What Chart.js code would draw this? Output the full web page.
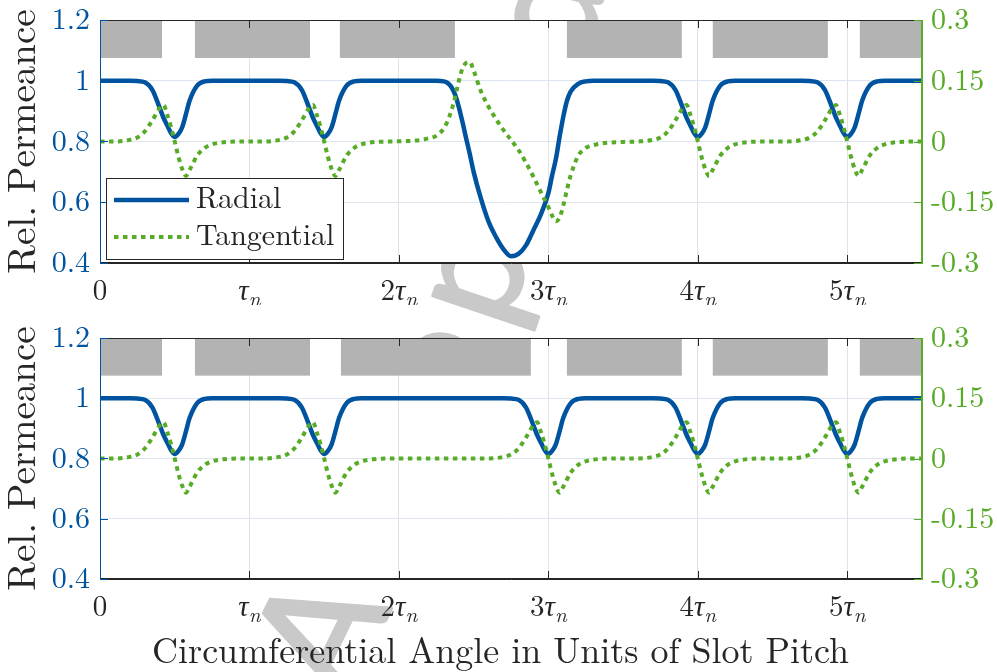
<!DOCTYPE html>
<html>
<head>
<meta charset="utf-8">
<script src="https://cdn.jsdelivr.net/npm/chart.js@4.4.1/dist/chart.umd.min.js"></script>
<style>
  html, body { margin: 0; padding: 0; background: #fff; }
  #wrap { position: relative; width: 997px; height: 672px; overflow: hidden; }
  #wrap canvas { position: absolute; left: 0; }
  #mark { top: 0; }
  #chartTop { top: 0; }
  #chartBottom { top: 305px; }
</style>
</head>
<body>
<div id="wrap">
  <canvas id="mark" width="997" height="672"></canvas>
  <canvas id="chartTop" width="997" height="305"></canvas>
  <canvas id="chartBottom" width="997" height="367"></canvas>
</div>
<script>
// values (x in units of slot pitch)
var xTicks = [0, 1, 2, 3, 4, 5];
var leftTicks = [0.4, 0.6, 0.8, 1.0, 1.2];
var rightTicks = [-0.3, -0.15, 0, 0.15, 0.3];

var toothStartTop = [0, 0.635, 1.605, 3.124, 4.1, 5.084];
var toothEndTop = [0.415, 1.405, 2.375, 3.893, 4.87, 5.5];
var toothStartBottom = [0, 0.635, 1.612, 3.124, 4.1, 5.084];
var toothEndBottom = [0.415, 1.405, 2.883, 3.893, 4.87, 5.5];
var TOOTH_LEVEL = 1.075;

var angleTop = [0, 0.1, 0.2, 0.25, 0.3, 0.35, 0.4, 0.425, 0.45, 0.475, 0.5, 0.525, 0.55, 0.575, 0.6, 0.65, 0.7, 0.75, 0.8, 0.85, 0.95,
  1.1, 1.2, 1.25, 1.3, 1.35, 1.4, 1.425, 1.45, 1.475, 1.5, 1.525, 1.55, 1.575, 1.6, 1.65, 1.7, 1.75, 1.8, 1.85, 1.95,
  2.05, 2.1, 2.15, 2.2, 2.25, 2.3, 2.325, 2.35, 2.375, 2.4, 2.425, 2.45, 2.475, 2.5, 2.55, 2.6, 2.65, 2.7, 2.75, 2.8,
  2.85, 2.9, 2.95, 3.0, 3.025, 3.05, 3.075, 3.1, 3.125, 3.15, 3.2, 3.25, 3.3, 3.4, 3.5,
  3.6, 3.7, 3.75, 3.8, 3.85, 3.9, 3.925, 3.95, 3.975, 4.0, 4.025, 4.05, 4.075, 4.1, 4.15, 4.2, 4.25, 4.3, 4.35, 4.45,
  4.6, 4.7, 4.75, 4.8, 4.85, 4.9, 4.925, 4.95, 4.975, 5.0, 5.025, 5.05, 5.075, 5.1, 5.15, 5.2, 5.25, 5.3, 5.35, 5.45, 5.5];
var radialTop = [1, 1, 1, 0.999, 0.995, 0.97, 0.91, 0.878, 0.853, 0.828, 0.815, 0.825, 0.847, 0.89, 0.935, 0.984, 0.998, 1, 1, 1, 1,
  1, 1, 0.999, 0.995, 0.97, 0.91, 0.878, 0.853, 0.828, 0.815, 0.825, 0.847, 0.89, 0.935, 0.984, 0.998, 1, 1, 1, 1,
  1, 1, 1, 1, 1, 0.998, 0.993, 0.98, 0.955, 0.915, 0.865, 0.81, 0.757, 0.70, 0.61, 0.536, 0.485, 0.445, 0.422, 0.43,
  0.458, 0.508, 0.56, 0.63, 0.688, 0.742, 0.815, 0.882, 0.935, 0.965, 0.99, 0.998, 1, 1, 1,
  1, 1, 0.999, 0.995, 0.97, 0.91, 0.878, 0.853, 0.828, 0.815, 0.825, 0.847, 0.89, 0.935, 0.984, 0.998, 1, 1, 1, 1,
  1, 1, 0.999, 0.995, 0.97, 0.91, 0.878, 0.853, 0.828, 0.815, 0.825, 0.847, 0.89, 0.935, 0.984, 0.998, 1, 1, 1, 1, 1];
var tangentialTop = [0, 0, 0.004, 0.01, 0.025, 0.052, 0.083, 0.09, 0.066, 0.036, 0, -0.038, -0.068, -0.085, -0.07, -0.035, -0.016, -0.007, -0.003, -0.001, 0,
  0, 0.004, 0.01, 0.025, 0.052, 0.083, 0.09, 0.066, 0.036, 0, -0.038, -0.068, -0.085, -0.07, -0.035, -0.016, -0.007, -0.003, -0.001, 0,
  0.001, 0.002, 0.004, 0.008, 0.014, 0.032, 0.05, 0.075, 0.108, 0.148, 0.18, 0.194, 0.196, 0.175, 0.123, 0.086, 0.055, 0.028, 0.004, -0.021,
  -0.052, -0.087, -0.125, -0.162, -0.183, -0.197, -0.188, -0.158, -0.118, -0.083, -0.035, -0.016, -0.009, -0.003, -0.001,
  0, 0.004, 0.01, 0.025, 0.052, 0.083, 0.09, 0.066, 0.036, 0, -0.038, -0.068, -0.085, -0.07, -0.035, -0.016, -0.007, -0.003, -0.001, 0,
  0, 0.004, 0.01, 0.025, 0.052, 0.083, 0.09, 0.066, 0.036, 0, -0.038, -0.068, -0.085, -0.07, -0.035, -0.016, -0.007, -0.003, -0.001, 0, 0];

var angleBottom = [0, 0.1, 0.2, 0.25, 0.3, 0.35, 0.4, 0.425, 0.45, 0.475, 0.5, 0.525, 0.55, 0.575, 0.6, 0.65, 0.7, 0.75, 0.8, 0.85, 0.95,
  1.1, 1.2, 1.25, 1.3, 1.35, 1.4, 1.425, 1.45, 1.475, 1.5, 1.525, 1.55, 1.575, 1.6, 1.65, 1.7, 1.75, 1.8, 1.85, 1.95,
  2.1, 2.3, 2.5, 2.6, 2.7, 2.75, 2.8, 2.85, 2.9, 2.925, 2.95, 2.975, 3.0, 3.025, 3.05, 3.075, 3.1, 3.15, 3.2, 3.25, 3.3, 3.35, 3.45,
  3.6, 3.7, 3.75, 3.8, 3.85, 3.9, 3.925, 3.95, 3.975, 4.0, 4.025, 4.05, 4.075, 4.1, 4.15, 4.2, 4.25, 4.3, 4.35, 4.45,
  4.6, 4.7, 4.75, 4.8, 4.85, 4.9, 4.925, 4.95, 4.975, 5.0, 5.025, 5.05, 5.075, 5.1, 5.15, 5.2, 5.25, 5.3, 5.35, 5.45, 5.5];
var radialBottom = [1, 1, 1, 0.999, 0.995, 0.97, 0.91, 0.878, 0.853, 0.828, 0.815, 0.825, 0.847, 0.89, 0.935, 0.984, 0.998, 1, 1, 1, 1,
  1, 1, 0.999, 0.995, 0.97, 0.91, 0.878, 0.853, 0.828, 0.815, 0.825, 0.847, 0.89, 0.935, 0.984, 0.998, 1, 1, 1, 1,
  1, 1, 1, 1, 1, 0.999, 0.995, 0.97, 0.91, 0.878, 0.853, 0.828, 0.815, 0.825, 0.847, 0.89, 0.935, 0.984, 0.998, 1, 1, 1, 1,
  1, 1, 0.999, 0.995, 0.97, 0.91, 0.878, 0.853, 0.828, 0.815, 0.825, 0.847, 0.89, 0.935, 0.984, 0.998, 1, 1, 1, 1,
  1, 1, 0.999, 0.995, 0.97, 0.91, 0.878, 0.853, 0.828, 0.815, 0.825, 0.847, 0.89, 0.935, 0.984, 0.998, 1, 1, 1, 1, 1];
var tangentialBottom = [0, 0, 0.004, 0.01, 0.025, 0.052, 0.083, 0.09, 0.066, 0.036, 0, -0.038, -0.068, -0.085, -0.07, -0.035, -0.016, -0.007, -0.003, -0.001, 0,
  0, 0.004, 0.01, 0.025, 0.052, 0.083, 0.09, 0.066, 0.036, 0, -0.038, -0.068, -0.085, -0.07, -0.035, -0.016, -0.007, -0.003, -0.001, 0,
  0, 0, 0, 0, 0.004, 0.01, 0.025, 0.052, 0.083, 0.09, 0.066, 0.036, 0, -0.038, -0.068, -0.085, -0.07, -0.035, -0.016, -0.007, -0.003, -0.001, 0,
  0, 0.004, 0.01, 0.025, 0.052, 0.083, 0.09, 0.066, 0.036, 0, -0.038, -0.068, -0.085, -0.07, -0.035, -0.016, -0.007, -0.003, -0.001, 0,
  0, 0.004, 0.01, 0.025, 0.052, 0.083, 0.09, 0.066, 0.036, 0, -0.038, -0.068, -0.085, -0.07, -0.035, -0.016, -0.007, -0.003, -0.001, 0, 0];

var BLUE = '#00549F';
var GREEN = '#57AB27';
var GRAY = '#B3B3B3';
var INK = '#262626';

// first serif face that is really installed, else the generic one
function hasFont(name) {
  var c = document.createElement('canvas').getContext('2d');
  var s = 'Rel. Permeance 0123 Wg';
  var bases = ['monospace', 'sans-serif'];
  for (var i = 0; i < bases.length; i++) {
    c.font = '40px ' + bases[i];
    var w0 = c.measureText(s).width;
    c.font = '40px "' + name + '", ' + bases[i];
    if (Math.abs(c.measureText(s).width - w0) > 0.5) return true;
  }
  return false;
}
var SERIF = 'serif';
['Latin Modern Roman', 'CMU Serif', 'Liberation Serif', 'DejaVu Serif', 'Noto Serif', 'Times New Roman', 'FreeSerif', 'Tinos'].some(function (f) {
  if (hasFont(f)) { SERIF = '"' + f + '", serif'; return true; }
  return false;
});

function pairs(xs, ys) {
  var out = [];
  for (var i = 0; i < xs.length; i++) out.push({ x: xs[i], y: ys[i] });
  return out;
}

function fmt(v) {
  return String(parseFloat(v.toFixed(2)));
}

// tick label like 2τ with subscript n
function drawTauLabel(ctx, k, px, baseY) {
  var parts = [];
  if (k === 0) {
    parts.push(['0', '29px ' + SERIF, 0]);
  } else {
    if (k > 1) parts.push([String(k), '29px ' + SERIF, 0]);
    parts.push(['\u03C4', 'italic 29px ' + SERIF, 0]);
    parts.push(['n', 'italic 21px ' + SERIF, 6]);
  }
  var total = 0;
  parts.forEach(function (p) { ctx.font = p[1]; p.push(ctx.measureText(p[0]).width); total += p[3]; });
  var x = px - total / 2;
  ctx.fillStyle = INK;
  ctx.textAlign = 'left';
  ctx.textBaseline = 'alphabetic';
  parts.forEach(function (p) { ctx.font = p[1]; ctx.fillText(p[0], x, baseY + p[2]); x += p[3]; });
}

var decoPlugin = {
  id: 'deco',
  beforeDraw: function (chart) {
    var a = chart.chartArea, ctx = chart.ctx;
    ctx.save();
    ctx.fillStyle = '#fff';
    ctx.fillRect(a.left, a.top, a.right - a.left, a.bottom - a.top);
    ctx.restore();
  },
  beforeDatasetsDraw: function (chart, args, o) {
    var x = chart.scales.x, y = chart.scales.y, ctx = chart.ctx;
    var yTop = y.getPixelForValue(y.max), yBot = y.getPixelForValue(TOOTH_LEVEL);
    ctx.save();
    ctx.fillStyle = GRAY;
    for (var i = 0; i < o.toothStart.length; i++) {
      var x0 = x.getPixelForValue(o.toothStart[i]), x1 = x.getPixelForValue(o.toothEnd[i]);
      ctx.fillRect(x0, yTop, x1 - x0, yBot - yTop);
    }
    ctx.restore();
  },
  afterDatasetsDraw: function (chart, args, o) {
    var a = chart.chartArea, ctx = chart.ctx;
    var x = chart.scales.x, y = chart.scales.y, y2 = chart.scales.y2;
    ctx.save();
    ctx.lineWidth = 1;
    ctx.strokeStyle = INK;
    ctx.beginPath();
    ctx.moveTo(a.left, a.top + 0.5); ctx.lineTo(a.right, a.top + 0.5);
    ctx.moveTo(a.left, a.bottom - 0.5); ctx.lineTo(a.right, a.bottom - 0.5);
    x.ticks.forEach(function (t) {
      var px = Math.round(x.getPixelForValue(t.value)) + 0.5;
      ctx.moveTo(px, a.bottom); ctx.lineTo(px, a.bottom - 8);
      ctx.moveTo(px, a.top); ctx.lineTo(px, a.top + 8);
    });
    ctx.stroke();
    ctx.strokeStyle = BLUE;
    ctx.beginPath();
    ctx.moveTo(a.left + 0.5, a.top); ctx.lineTo(a.left + 0.5, a.bottom);
    y.ticks.forEach(function (t) {
      var py = Math.round(y.getPixelForValue(t.value)) + 0.5;
      ctx.moveTo(a.left, py); ctx.lineTo(a.left + 8, py);
    });
    ctx.stroke();
    ctx.strokeStyle = GREEN;
    ctx.beginPath();
    ctx.moveTo(a.right - 0.5, a.top); ctx.lineTo(a.right - 0.5, a.bottom);
    y2.ticks.forEach(function (t) {
      var py = Math.round(y2.getPixelForValue(t.value)) + 0.5;
      ctx.moveTo(a.right, py); ctx.lineTo(a.right - 8, py);
    });
    ctx.stroke();

    // legend box inside the axes
    if (o.legend) {
      var lx = a.left + 6, ly = a.top + 158, lw = 237, lh = 81;
      ctx.fillStyle = '#fff';
      ctx.fillRect(lx, ly, lw, lh);
      ctx.strokeStyle = INK;
      ctx.strokeRect(lx + 0.5, ly + 0.5, lw, lh);
      chart.data.datasets.forEach(function (ds, i) {
        var cy = ly + 22 + i * 37;
        ctx.strokeStyle = ds.borderColor;
        ctx.lineWidth = ds.borderWidth;
        ctx.setLineDash(ds.borderDash || []);
        ctx.beginPath();
        ctx.moveTo(lx + 8, cy); ctx.lineTo(lx + 83, cy);
        ctx.stroke();
        ctx.setLineDash([]);
        ctx.fillStyle = INK;
        ctx.font = '30px ' + SERIF;
        ctx.textAlign = 'left';
        ctx.textBaseline = 'alphabetic';
        ctx.fillText(ds.label, lx + 90, cy + 8);
      });
    }
    ctx.restore();
  },
  afterDraw: function (chart, args, o) {
    var a = chart.chartArea, ctx = chart.ctx, x = chart.scales.x;
    ctx.save();
    x.ticks.forEach(function (t) {
      drawTauLabel(ctx, t.value, x.getPixelForValue(t.value), a.bottom + 37);
    });
    // axis label centred on the whole figure, as in the original
    if (o.xTitle) {
      ctx.font = '36px ' + SERIF;
      ctx.fillStyle = INK;
      ctx.textAlign = 'center';
      ctx.textBaseline = 'alphabetic';
      ctx.fillText(o.xTitle, chart.width / 2 + 2, a.bottom + 84);
    }
    ctx.restore();
  }
};

function noLabelPadding(s) {
  s.paddingTop = 0;
  s.paddingBottom = 0;
}

function makeChart(id, angle, radial, tangential, toothStart, toothEnd, padTop, xHeight, withLegend, xTitle) {
  return new Chart(document.getElementById(id), {
    type: 'line',
    data: {
      datasets: [{
        label: 'Radial',
        data: pairs(angle, radial),
        yAxisID: 'y',
        borderColor: BLUE,
        borderWidth: 4.5,
        pointRadius: 0,
        cubicInterpolationMode: 'monotone',
        order: 1
      }, {
        label: 'Tangential',
        data: pairs(angle, tangential),
        yAxisID: 'y2',
        borderColor: GREEN,
        borderWidth: 4,
        borderDash: [4.5, 4.5],
        borderCapStyle: 'butt',
        pointRadius: 0,
        cubicInterpolationMode: 'monotone',
        order: 0
      }]
    },
    options: {
      responsive: false,
      devicePixelRatio: 1,
      animation: false,
      layout: { padding: { top: padTop, left: 0, right: 0, bottom: 0 } },
      plugins: {
        legend: { display: false },
        tooltip: { enabled: false },
        deco: { toothStart: toothStart, toothEnd: toothEnd, legend: withLegend, xTitle: xTitle }
      },
      scales: {
        x: {
          type: 'linear', min: 0, max: 5.5,
          afterBuildTicks: function (s) { s.ticks = xTicks.map(function (v) { return { value: v }; }); },
          ticks: { display: false },
          grid: { color: '#E2E2E2', drawTicks: false },
          border: { color: INK },
          afterFit: function (s) { s.height = xHeight; }
        },
        y: {
          position: 'left', min: 0.4, max: 1.2,
          afterBuildTicks: function (s) { s.ticks = leftTicks.map(function (v) { return { value: v }; }); },
          ticks: { color: BLUE, font: { family: SERIF, size: 30 }, padding: 10, callback: fmt },
          grid: { color: '#DDE6EF', drawTicks: false },
          border: { color: BLUE },
          title: {
            display: true, text: 'Rel. Permeance', color: INK,
            font: { family: SERIF, size: 39 }, padding: 0
          },
          afterFit: function (s) { s.width = 100; noLabelPadding(s); }
        },
        y2: {
          position: 'right', min: -0.3, max: 0.3,
          afterBuildTicks: function (s) { s.ticks = rightTicks.map(function (v) { return { value: v }; }); },
          ticks: { color: GREEN, font: { family: SERIF, size: 30 }, padding: 9, callback: fmt },
          grid: { drawOnChartArea: false, drawTicks: false },
          border: { color: GREEN },
          afterFit: function (s) { s.width = 75; noLabelPadding(s); }
        }
      }
    },
    plugins: [decoPlugin]
  });
}

// faint watermark behind the axes, letters set along a gently bending line
function drawMark() {
  var c = document.getElementById('mark'), ctx = c.getContext('2d');
  var word = 'Accepted';
  var size = 158, spacing = 16;
  var px = 345, py = 704, ang = -64;
  ctx.fillStyle = '#C9C9C9';
  ctx.strokeStyle = '#C9C9C9';
  ctx.lineWidth = 3;
  ctx.lineJoin = 'round';
  ctx.font = size + 'px Lato, "DejaVu Sans", sans-serif';
  ctx.textBaseline = 'alphabetic';
  for (var i = 0; i < word.length; i++) {
    var w = ctx.measureText(word[i]).width + spacing;
    var r = ang * Math.PI / 180;
    ctx.save();
    ctx.translate(px, py);
    ctx.rotate(r);
    ctx.fillText(word[i], 0, 0);
    ctx.strokeText(word[i], 0, 0);
    ctx.restore();
    px += w * Math.cos(r);
    py += w * Math.sin(r);
    ang -= w * 0.018;
  }
}

drawMark();
makeChart('chartTop', angleTop, radialTop, tangentialTop, toothStartTop, toothEndTop, 20, 42, true, null);
makeChart('chartBottom', angleBottom, radialBottom, tangentialBottom, toothStartBottom, toothEndBottom, 33, 93, false,
  'Circumferential Angle in Units of Slot Pitch');
</script>
</body>
</html>
